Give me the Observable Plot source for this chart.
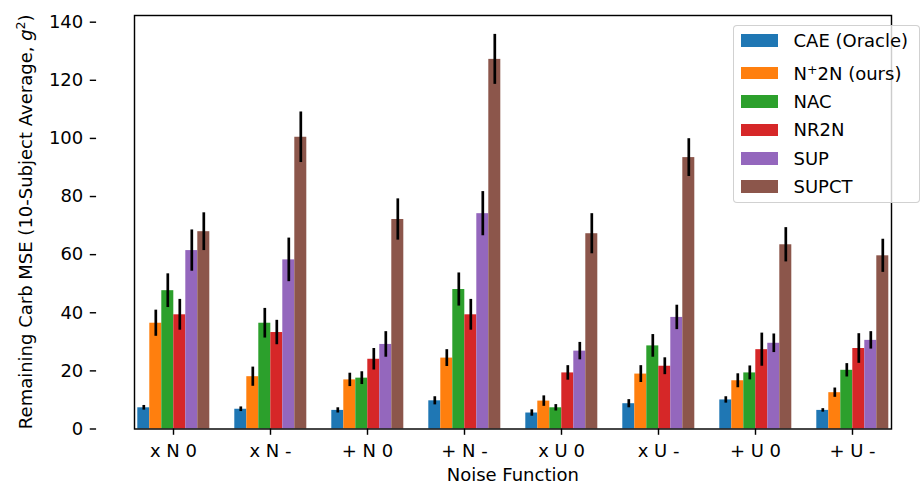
<!DOCTYPE html>
<html>
<head>
<meta charset="utf-8">
<script src="https://cdn.jsdelivr.net/npm/d3@7"></script>
<script src="https://cdn.jsdelivr.net/npm/@observablehq/plot@0.6"></script>
<style>
  html, body { margin: 0; padding: 0; background: #fff; }
  #wrap { position: relative; width: 922px; height: 485px; overflow: hidden; font-family: "DejaVu Sans", sans-serif; }
  #legend { position: absolute; left: 733px; top: 25px; width: 185px; height: 176px;
    border: 1px solid rgba(204,204,204,0.9); border-radius: 4px; background: rgba(255,255,255,0.8);
    font-size: 18px; color: #000; }
  .row { display: flex; align-items: center; height: 28.4px; }
  .sw { width: 37px; height: 12.7px; margin-left: 7px; margin-right: 15.5px; flex: none; }
  sup { font-size: 0.7em; vertical-align: 0.5em; line-height: 0; }
</style>
</head>
<body>
<div id="wrap"></div>
<script>
const groups = ["x N 0", "x N -", "+ N 0", "+ N -", "x U 0", "x U -", "+ U 0", "+ U -"];
const series = ["CAE (Oracle)", "N+2N (ours)", "NAC", "NR2N", "SUP", "SUPCT"];
const legendLabels = ["CAE (Oracle)", "N<sup>+</sup>2N (ours)", "NAC", "NR2N", "SUP", "SUPCT"];
const colors = ["#1f77b4", "#ff7f0e", "#2ca02c", "#d62728", "#9467bd", "#8c564b"];

const cae   = [7.3, 6.8, 6.4, 9.7, 5.5, 8.7, 10.0, 6.4];
const n2n   = [36.4, 18.0, 16.9, 24.4, 9.6, 18.9, 16.6, 12.5];
const nac   = [47.6, 36.4, 17.5, 48.0, 7.3, 28.6, 19.3, 20.2];
const nr2n  = [39.3, 33.2, 24.0, 39.3, 19.3, 21.6, 27.3, 27.7];
const sup   = [61.4, 58.2, 29.1, 74.1, 26.8, 38.4, 29.5, 30.5];
const supct = [67.9, 100.4, 72.1, 127.2, 67.2, 93.4, 63.4, 59.6];

const caeErr   = [0.8, 0.8, 0.9, 1.4, 1.1, 1.4, 1.1, 0.6];
const n2nErr   = [4.5, 3.3, 2.3, 2.9, 1.8, 2.9, 2.4, 1.6];
const nacErr   = [5.8, 5.1, 2.2, 5.7, 1.1, 3.9, 2.4, 2.3];
const nr2nErr  = [5.3, 4.2, 3.7, 5.3, 2.5, 2.9, 5.7, 5.1];
const supErr   = [7.1, 7.5, 4.4, 7.6, 3.0, 4.2, 3.2, 3.0];
const supctErr = [6.5, 8.7, 7.1, 8.6, 6.9, 6.5, 5.9, 5.7];

const yTicks = [0, 20, 40, 60, 80, 100, 120, 140];

const values = [cae, n2n, nac, nr2n, sup, supct];
const errors = [caeErr, n2nErr, nacErr, nr2nErr, supErr, supctErr];
const rows = [];
series.forEach((s, si) => groups.forEach((g, gi) => {
  rows.push({group: g, series: s, value: values[si][gi], err: errors[si][gi]});
}));

const W = 922, ML = 95.7, MR = -7.9, PIN = 0.2, POUT = 0.39;
const step = (W - ML - MR) / (groups.length - PIN + 2 * POUT);

const plot = Plot.plot({
  width: W,
  height: 485,
  marginLeft: ML,
  marginRight: MR,
  marginTop: 15,
  marginBottom: 56.5,
  style: {fontFamily: "DejaVu Sans, sans-serif", fontSize: "18px", color: "#000", background: "transparent"},
  fx: {domain: groups, paddingInner: PIN, paddingOuter: POUT, axis: null},
  x: {domain: series, padding: 0, axis: null},
  y: {domain: [0, 142.3], axis: null},
  color: {domain: series, range: colors},
  marks: [
    Plot.barY(rows, {fx: "group", x: "series", y: "value", fill: "series"}),
    Plot.ruleX(rows, {fx: "group", x: "series", y1: d => d.value - d.err, y2: d => d.value + d.err, stroke: "#000", strokeWidth: 2.7}),
    Plot.axisFx({anchor: "bottom", tickSize: 6.3, tickPadding: 9, label: null, fontSize: 18, strokeWidth: 1.44}),
    Plot.axisY({anchor: "left", dx: -POUT * step, ticks: yTicks, tickSize: 6.3, tickPadding: 7, label: null, fontSize: 18, strokeWidth: 1.44}),
    Plot.frame({facet: "super", stroke: "#000", strokeWidth: 1.44})
  ]
});

const wrap = document.getElementById("wrap");
wrap.appendChild(plot);

const svg = d3.select(plot.tagName.toLowerCase() === "svg" ? plot : plot.querySelector("svg"));
svg.append("text")
  .attr("x", 512.8).attr("y", 481)
  .attr("text-anchor", "middle")
  .attr("font-size", 18).attr("fill", "#000")
  .text("Noise Function");

const yl = svg.append("text")
  .attr("transform", "translate(31.5,221.75) rotate(-90)")
  .attr("text-anchor", "middle")
  .attr("font-size", 18).attr("fill", "#000");
yl.append("tspan").text("Remaining Carb MSE (10-Subject Average, ");
yl.append("tspan").attr("font-style", "italic").text("g");
yl.append("tspan").attr("font-size", 12.6).attr("dy", -7).text("2");
yl.append("tspan").attr("dy", 7).text(")");

const legend = document.createElement("div");
legend.id = "legend";
legend.innerHTML = series.map((s, i) =>
  `<div class="row" style="${i === 1 ? "margin-top:4.5px" : ""}"><div class="sw" style="background:${colors[i]}"></div><span>${legendLabels[i]}</span></div>`
).join("");
wrap.appendChild(legend);
</script>
</body>
</html>
